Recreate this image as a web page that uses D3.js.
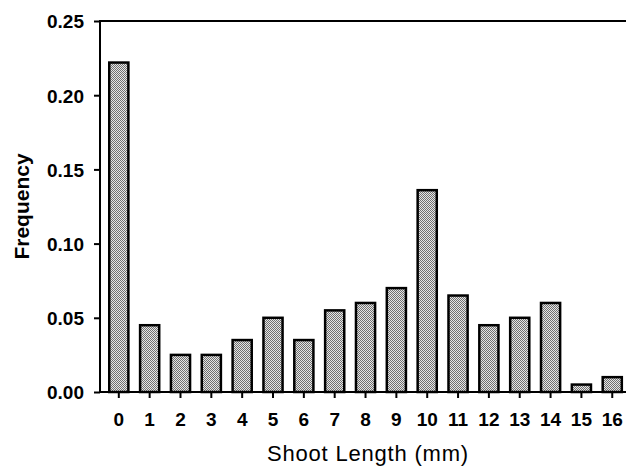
<!DOCTYPE html>
<html>
<head>
<meta charset="utf-8">
<script src="https://cdn.jsdelivr.net/npm/d3@7"></script>
<style>
html,body{margin:0;padding:0;background:#fff;}
svg{display:block;}
</style>
</head>
<body>
<svg id="chart" width="626" height="466"></svg>
<script>
const categories = ["0","1","2","3","4","5","6","7","8","9","10","11","12","13","14","15","16"];
const frequency = [0.222,0.045,0.025,0.025,0.035,0.05,0.035,0.055,0.06,0.07,0.136,0.065,0.045,0.05,0.06,0.005,0.01];
const yTicks = [0.00,0.05,0.10,0.15,0.20,0.25];
const xTitle = "Shoot Length (mm)";
const yTitle = "Frequency";

const W = 626, H = 466;
const m = {left:100, right:0, top:21, bottom:74};
const svg = d3.select("#chart");

const defs = svg.append("defs");
const pat = defs.append("pattern").attr("id","dots").attr("patternUnits","userSpaceOnUse")
  .attr("width",2).attr("height",2);
pat.append("rect").attr("width",2).attr("height",2).attr("fill","#e6e6e6");
pat.append("rect").attr("width",1).attr("height",1).attr("fill","#707070");
pat.append("rect").attr("x",1).attr("y",1).attr("width",1).attr("height",1).attr("fill","#707070");

const x = d3.scaleBand().domain(categories)
  .range([m.left, m.left + 30.84*(17 - 0.38 + 0.6)])
  .paddingInner(0.38).paddingOuter(0.3);
const y = d3.scaleLinear().domain([0,0.25]).range([H - m.bottom, m.top]);

// bars
svg.append("g").selectAll("rect").data(frequency).join("rect")
  .attr("x",(d,i)=>x(categories[i]))
  .attr("y",d=>y(d))
  .attr("width",x.bandwidth())
  .attr("height",d=>y(0)-y(d))
  .attr("fill","url(#dots)")
  .attr("stroke","#000")
  .attr("stroke-width",2.5);

// top line
svg.append("line").attr("x1",m.left).attr("x2",W).attr("y1",y(0.25)).attr("y2",y(0.25))
  .attr("stroke","#000").attr("stroke-width",2);

// y axis
const yAxis = svg.append("g").attr("transform",`translate(${m.left},0)`)
  .call(d3.axisLeft(y).tickValues(yTicks).tickFormat(d3.format(".2f")).tickSize(6).tickPadding(10));
yAxis.select(".domain").attr("stroke-width",2).attr("d",`M0,${y(0)+1}V${y(0.25)-1}`);
yAxis.selectAll(".tick line").attr("stroke-width",2);
yAxis.selectAll(".tick text").attr("font-family","Liberation Sans, Arial, sans-serif")
  .attr("font-size",19).attr("font-weight","bold").attr("fill","#000").attr("dy","0.36em");

// x axis
const xAxis = svg.append("g").attr("transform",`translate(0,${y(0)})`)
  .call(d3.axisBottom(x).tickSize(6).tickPadding(15));
xAxis.select(".domain").attr("stroke-width",2).attr("d",`M${m.left},0H${W}`);
xAxis.selectAll(".tick line").attr("stroke-width",2);
xAxis.selectAll(".tick text").attr("font-family","Liberation Sans, Arial, sans-serif")
  .attr("font-size",19).attr("font-weight","bold").attr("fill","#000");

// titles
svg.append("text").attr("x",368).attr("y",461).attr("text-anchor","middle")
  .attr("font-family","Liberation Sans, Arial, sans-serif").attr("font-size",22)
  .attr("letter-spacing",0.8).attr("fill","#000").text(xTitle);
svg.append("text").attr("transform",`translate(29,${(y(0)+y(0.25))/2}) rotate(-90)`)
  .attr("text-anchor","middle")
  .attr("font-family","Liberation Sans, Arial, sans-serif").attr("font-size",21)
  .attr("font-weight","bold").attr("fill","#000").text(yTitle);
</script>
</body>
</html>
